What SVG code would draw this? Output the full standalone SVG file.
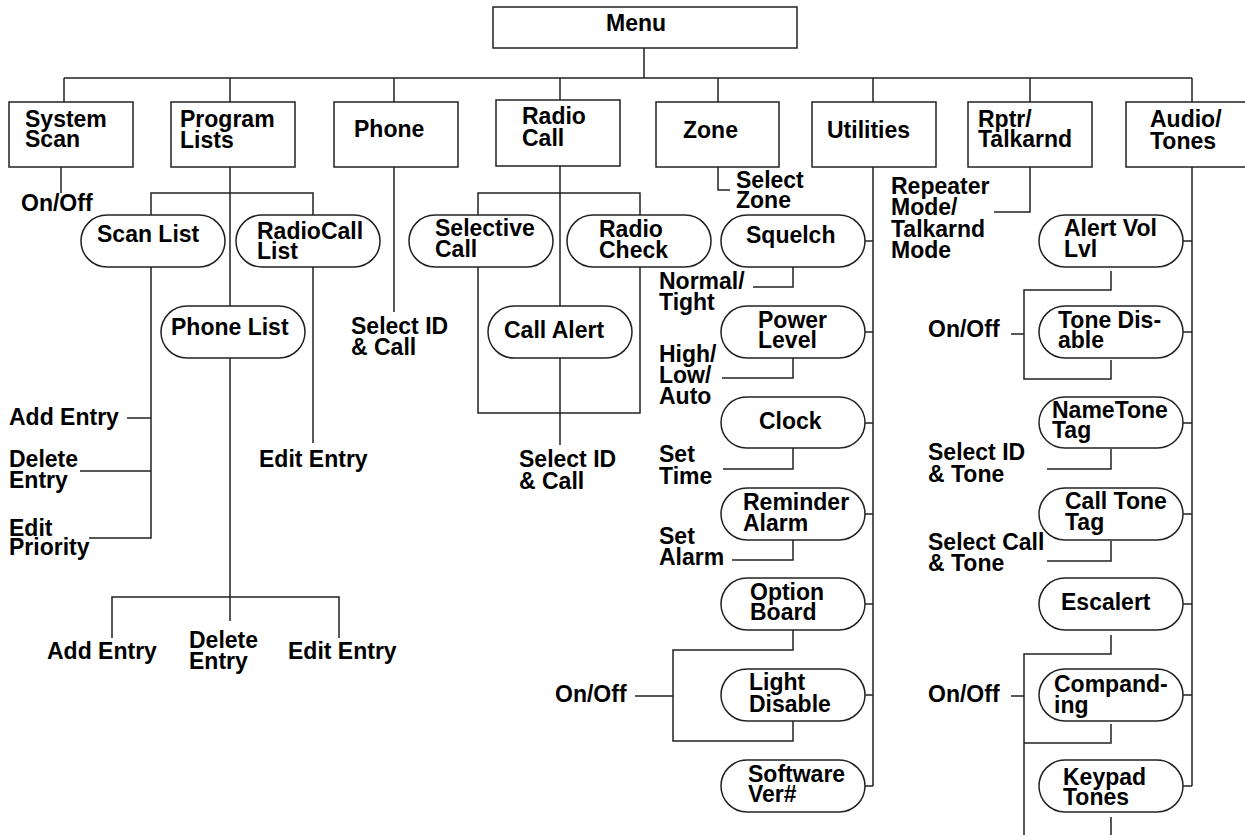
<svg xmlns="http://www.w3.org/2000/svg" width="1245" height="835" viewBox="0 0 1245 835">
<style>
text{font-family:"Liberation Sans",Arial,Helvetica,sans-serif;font-weight:bold;font-size:23px;fill:#000}
.box{fill:#fff;stroke:#222;stroke-width:1.5}
.pill{fill:#fff;stroke:#222;stroke-width:1.5}
.c{fill:none;stroke:#222;stroke-width:1.5}
</style>
<rect width="1245" height="835" fill="#fff"/>
<g id="connectors">
<path class="c" d="M644 48V78M64 78H1192M64 78V102M230 78V102M394 78V102M560 78V100M718 78V102M873 78V102M1030 78V102M1192 78V102"/>
<path class="c" d="M61 167V193"/>
<path class="c" d="M230 167V306M151 215V193H313V215M230 358V621M112 638V597H339V638"/>
<path class="c" d="M151 267V538H89M127 418H151M80 471H151"/>
<path class="c" d="M313 267V443"/>
<path class="c" d="M394 167V312"/>
<path class="c" d="M560 166V306M478 215V193H640V215M478 267V413H640V267M560 358V445"/>
<path class="c" d="M718 167V190H730"/>
<path class="c" d="M873 167V786M865 241H873M865 332H873M865 423H873M865 514H873M865 604H873M865 695H873M865 786H873"/>
<path class="c" d="M793 267V287H753M793 358V378H722M793 448V469H723M793 540V560H732"/>
<path class="c" d="M793 630V650H673V741H793V721M635 696H673"/>
<path class="c" d="M1030 167V212H994"/>
<path class="c" d="M1192 167V786M1183 241H1192M1183 332H1192M1183 423H1192M1183 514H1192M1183 604H1192M1183 695H1192M1183 786H1192"/>
<path class="c" d="M1111 271V290H1024V379H1111V360M1011 334H1024"/>
<path class="c" d="M1111 449V469H1047M1111 541V561H1047"/>
<path class="c" d="M1111 635V654H1024V835M1024 743H1111V724M1011 696H1024M1111 817V835"/>
</g>
<g id="menu"><rect class="box" x="493" y="7" width="304" height="41"/><text x="606" y="31">Menu</text></g>
<g id="system-scan"><rect class="box" x="9" y="102" width="124" height="65"/><text x="25" y="127">System</text><text x="25" y="147">Scan</text></g>
<g id="program-lists"><rect class="box" x="171" y="102" width="124" height="65"/><text x="180" y="127">Program</text><text x="180" y="148">Lists</text></g>
<g id="phone"><rect class="box" x="334" y="102" width="124" height="65"/><text x="354" y="137">Phone</text></g>
<g id="radio-call"><rect class="box" x="496" y="100" width="124" height="66"/><text x="522" y="124">Radio</text><text x="522" y="146">Call</text></g>
<g id="zone"><rect class="box" x="656" y="102" width="123" height="65"/><text x="683" y="138">Zone</text></g>
<g id="utilities"><rect class="box" x="812" y="102" width="124" height="65"/><text x="827" y="138">Utilities</text></g>
<g id="rptr"><rect class="box" x="968" y="102" width="124" height="65"/><text x="978" y="127">Rptr/</text><text x="978" y="147">Talkarnd</text></g>
<g id="audio-tones"><rect class="box" x="1126" y="102" width="124" height="65"/><text x="1150" y="127">Audio/</text><text x="1150" y="149">Tones</text></g>

<g id="scan-list"><rect class="pill" x="81" y="215" width="144" height="52" rx="26"/><text x="97" y="242">Scan List</text></g>
<g id="radiocall-list"><rect class="pill" x="236" y="215" width="144" height="52" rx="26"/><text x="257" y="239">RadioCall</text><text x="257" y="259">List</text></g>
<g id="phone-list"><rect class="pill" x="161" y="306" width="144" height="52" rx="26"/><text x="171" y="335">Phone List</text></g>
<g id="selective-call"><rect class="pill" x="409" y="215" width="144" height="52" rx="26"/><text x="435" y="236">Selective</text><text x="435" y="257">Call</text></g>
<g id="radio-check"><rect class="pill" x="567" y="215" width="144" height="52" rx="26"/><text x="599" y="237">Radio</text><text x="599" y="258">Check</text></g>
<g id="call-alert"><rect class="pill" x="488" y="306" width="144" height="52" rx="26"/><text x="504" y="338">Call Alert</text></g>
<g id="squelch"><rect class="pill" x="721" y="215" width="144" height="52" rx="26"/><text x="746" y="243">Squelch</text></g>
<g id="power-level"><rect class="pill" x="721" y="306" width="144" height="52" rx="26"/><text x="758" y="328">Power</text><text x="758" y="348">Level</text></g>
<g id="clock"><rect class="pill" x="721" y="397" width="144" height="51" rx="25.5"/><text x="759" y="429">Clock</text></g>
<g id="reminder-alarm"><rect class="pill" x="721" y="488" width="144" height="52" rx="26"/><text x="743" y="510">Reminder</text><text x="743" y="531">Alarm</text></g>
<g id="option-board"><rect class="pill" x="721" y="578" width="144" height="52" rx="26"/><text x="750" y="600">Option</text><text x="750" y="620">Board</text></g>
<g id="light-disable"><rect class="pill" x="721" y="669" width="144" height="52" rx="26"/><text x="749" y="690">Light</text><text x="749" y="712">Disable</text></g>
<g id="software-ver"><rect class="pill" x="721" y="760" width="144" height="52" rx="26"/><text x="748" y="782">Software</text><text x="748" y="802">Ver#</text></g>
<g id="alert-vol"><rect class="pill" x="1039" y="215" width="144" height="52" rx="26"/><text x="1064" y="236">Alert Vol</text><text x="1064" y="257">Lvl</text></g>
<g id="tone-disable"><rect class="pill" x="1039" y="306" width="144" height="52" rx="26"/><text x="1058" y="328">Tone Dis-</text><text x="1058" y="348">able</text></g>
<g id="nametone-tag"><rect class="pill" x="1039" y="397" width="144" height="51" rx="25.5"/><text x="1052" y="418">NameTone</text><text x="1052" y="438">Tag</text></g>
<g id="calltone-tag"><rect class="pill" x="1039" y="488" width="144" height="52" rx="26"/><text x="1065" y="509">Call Tone</text><text x="1065" y="530">Tag</text></g>
<g id="escalert"><rect class="pill" x="1039" y="578" width="144" height="52" rx="26"/><text x="1061" y="610">Escalert</text></g>
<g id="companding"><rect class="pill" x="1039" y="669" width="144" height="52" rx="26"/><text x="1054" y="692">Compand-</text><text x="1054" y="713">ing</text></g>
<g id="keypad-tones"><rect class="pill" x="1039" y="760" width="144" height="52" rx="26"/><text x="1063" y="785">Keypad</text><text x="1063" y="805">Tones</text></g>

<g id="labels">
<text x="21" y="211">On/Off</text>
<text x="9" y="425">Add Entry</text>
<text x="9" y="467">Delete</text><text x="9" y="488">Entry</text>
<text x="9" y="536">Edit</text><text x="9" y="555">Priority</text>
<text x="259" y="467">Edit Entry</text>
<text x="351" y="334">Select ID</text><text x="351" y="355">&amp; Call</text>
<text x="47" y="659">Add Entry</text>
<text x="189" y="648">Delete</text><text x="189" y="669">Entry</text>
<text x="288" y="659">Edit Entry</text>
<text x="519" y="467">Select ID</text><text x="519" y="489">&amp; Call</text>
<text x="736" y="188">Select</text><text x="736" y="208">Zone</text>
<text x="659" y="289">Normal/</text><text x="659" y="310">Tight</text>
<text x="659" y="362">High/</text><text x="659" y="383">Low/</text><text x="659" y="404">Auto</text>
<text x="659" y="462">Set</text><text x="659" y="484">Time</text>
<text x="659" y="544">Set</text><text x="659" y="565">Alarm</text>
<text x="555" y="702">On/Off</text>
<text x="891" y="194">Repeater</text><text x="891" y="215">Mode/</text><text x="891" y="237">Talkarnd</text><text x="891" y="258">Mode</text>
<text x="928" y="337">On/Off</text>
<text x="928" y="460">Select ID</text><text x="928" y="482">&amp; Tone</text>
<text x="928" y="550">Select Call</text><text x="928" y="571">&amp; Tone</text>
<text x="928" y="702">On/Off</text>
</g>
</svg>
